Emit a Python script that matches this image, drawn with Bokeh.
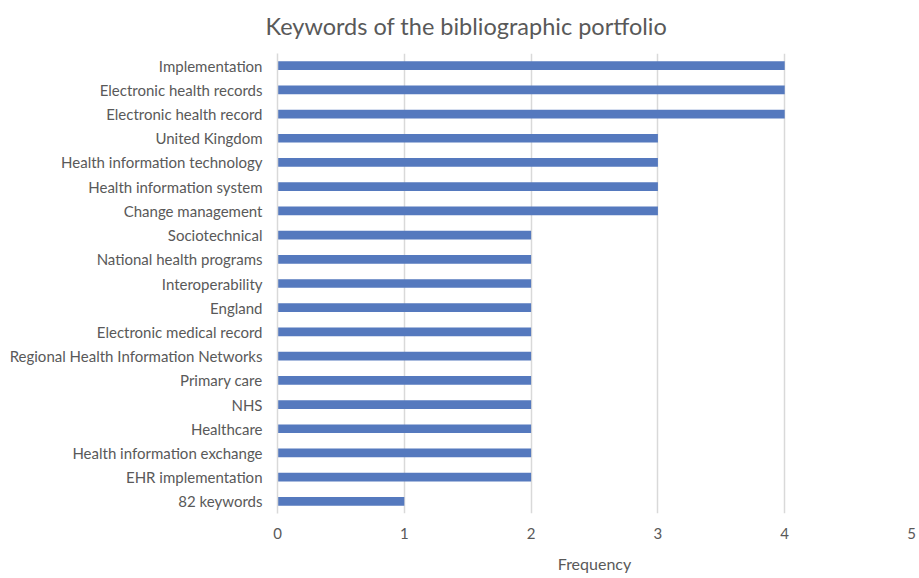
from bokeh.plotting import figure
from bokeh.models import FactorRange, Range1d, FixedTicker
from bokeh.embed import file_html
from bokeh.resources import INLINE

keywords = ["Implementation", "Electronic health records", "Electronic health record",
            "United Kingdom", "Health information technology", "Health information system",
            "Change management", "Sociotechnical", "National health programs",
            "Interoperability", "England", "Electronic medical record",
            "Regional Health Information Networks", "Primary care", "NHS", "Healthcare",
            "Health information exchange", "EHR implementation", "82 keywords"]
frequency = [4, 4, 4, 3, 3, 3, 3, 2, 2, 2, 2, 2, 2, 2, 2, 2, 2, 2, 1]
x_ticks = [0, 1, 2, 3, 4, 5]
title_text = "Keywords of the bibliographic portfolio"
x_title = "Frequency"

FONT = "Lato"
TXT = "#595959"
GRID = "#D9D9D9"

p = figure(width=919, height=578, output_backend="svg", toolbar_location=None,
           y_range=FactorRange(factors=list(reversed(keywords))),
           x_range=Range1d(0, 5), title=title_text)
p.min_border_left = 277
p.min_border_right = 8
p.min_border_top = 51
p.min_border_bottom = 65

p.hbar(y=keywords, right=frequency, left=0, height=0.36,
       color="#5579BE", line_color=None)

p.title.text_font = FONT
p.title.text_font_size = "23.5px"
p.title.text_font_style = "normal"
p.title.text_color = TXT
p.title.align = "left"
p.title.offset = -12
p.title.standoff = 23
p.title.vertical_align = "top"

p.outline_line_color = None
p.background_fill_color = "white"
p.border_fill_color = "white"

p.xgrid.grid_line_color = GRID
p.xgrid.grid_line_width = 1.5
p.ygrid.grid_line_color = None
p.xaxis.ticker = FixedTicker(ticks=x_ticks)

p.xaxis.axis_line_color = None
p.xaxis.major_tick_line_color = None
p.xaxis.minor_tick_line_color = None
p.xaxis.major_tick_out = 0
p.xaxis.major_tick_in = 0
p.xaxis.major_label_text_font = FONT
p.xaxis.major_label_text_font_size = "15px"
p.xaxis.major_label_text_color = TXT
p.xaxis.major_label_standoff = 14
p.xaxis.axis_label = x_title
p.xaxis.axis_label_text_font = FONT
p.xaxis.axis_label_text_font_size = "16px"
p.xaxis.axis_label_text_font_style = "normal"
p.xaxis.axis_label_text_color = TXT
p.xaxis.axis_label_standoff = 12

p.yaxis.axis_line_color = GRID
p.yaxis.axis_line_width = 1.5
p.yaxis.major_tick_line_color = None
p.yaxis.minor_tick_line_color = None
p.yaxis.major_tick_out = 0
p.yaxis.major_tick_in = 0
p.yaxis.major_label_text_font = FONT
p.yaxis.major_label_text_font_size = "15px"
p.yaxis.major_label_text_color = TXT
p.yaxis.major_label_standoff = 15

open("out.html", "w").write(file_html(p, INLINE))
